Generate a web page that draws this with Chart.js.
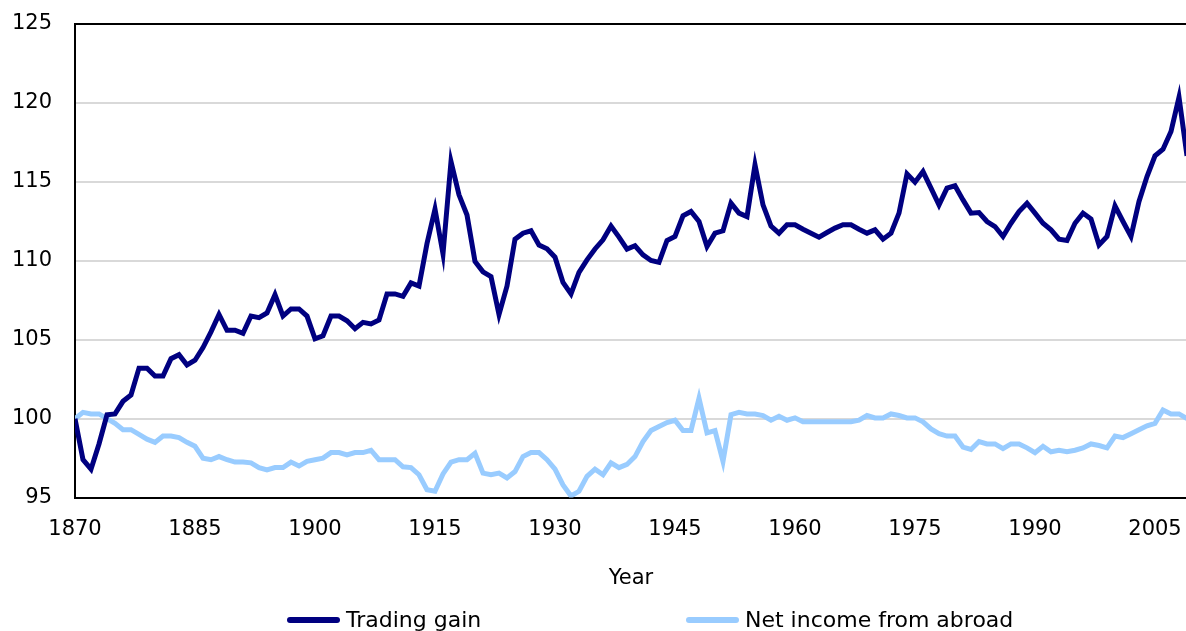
<!DOCTYPE html>
<html>
<head>
<meta charset="utf-8">
<script src="https://cdn.jsdelivr.net/npm/chart.js@4/dist/chart.umd.min.js"></script>
<style>
  html, body { margin: 0; padding: 0; background: #fff; overflow: hidden; }
  #wrap { position: relative; width: 1186px; height: 631px; overflow: hidden; }
  #chart { position: absolute; left: 0; top: 0; }
  .lg-item { position: absolute; top: 609px; height: 22px; display: flex; align-items: center;
             font: 22px "DejaVu Sans", Verdana, sans-serif; line-height: 22px; color: #000; white-space: nowrap; }
  .lg-swatch { display: inline-block; width: 53px; height: 6px; border-radius: 3px; margin-right: 6px; }
</style>
</head>
<body>
<div id="wrap">
  <canvas id="chart" width="1190" height="631"></canvas>
</div>
<script>
// years 1870 .. 2009
var firstYear = 1870;
var lastYear = 2009;
var years = [];
for (var yr = firstYear; yr <= lastYear; yr++) years.push(yr);

var yearTicks = [1870, 1885, 1900, 1915, 1930, 1945, 1960, 1975, 1990, 2005];
var valueTicks = [95, 100, 105, 110, 115, 120, 125];

var tradingGain = [
  100.0, 97.4, 96.8, 98.4, 100.25, 100.3, 101.1, 101.5, 103.2, 103.2,      // 1870s
  102.7, 102.7, 103.8, 104.05, 103.4, 103.7, 104.5, 105.5, 106.6, 105.6,   // 1880s
  105.6, 105.4, 106.5, 106.4, 106.7, 107.85, 106.5, 106.95, 106.95, 106.5, // 1890s
  105.06, 105.25, 106.5, 106.5, 106.2, 105.7, 106.1, 106.0, 106.25, 107.9, // 1900s
  107.9, 107.75, 108.6, 108.4, 111.1, 113.27, 110.44, 116.29, 114.18, 112.9, // 1910s
  109.96, 109.3, 109.0, 106.6, 108.4, 111.37, 111.75, 111.9, 111.0, 110.76, // 1920s
  110.23, 108.63, 107.9, 109.26, 110.06, 110.75, 111.33, 112.2, 111.5, 110.74, // 1930s
  110.95, 110.38, 110.02, 109.9, 111.29, 111.54, 112.85, 113.12, 112.49, 110.91, // 1940s
  111.75, 111.9, 113.65, 113.02, 112.8, 116.08, 113.54, 112.2, 111.75, 112.28, // 1950s
  112.28, 112.0, 111.75, 111.5, 111.79, 112.07, 112.28, 112.28, 112.0, 111.75, // 1960s
  111.96, 111.37, 111.75, 113.02, 115.51, 114.98, 115.65, 114.6, 113.54, 114.6, // 1970s
  114.75, 113.86, 113.02, 113.06, 112.49, 112.17, 111.54, 112.38, 113.12, 113.65, // 1980s
  113.02, 112.38, 111.96, 111.37, 111.29, 112.38, 113.02, 112.64, 111.01, 111.54, // 1990s
  113.48, 112.49, 111.54, 113.76, 115.34, 116.65, 117.07, 118.19, 120.36, 116.65  // 2000s
];

var netIncome = [
  100.0, 100.4, 100.3, 100.3, 100.0, 99.7, 99.3, 99.3, 99.0, 98.7,
  98.5, 98.9, 98.9, 98.8, 98.5, 98.25, 97.5, 97.4, 97.6, 97.4,
  97.25, 97.25, 97.2, 96.9, 96.75, 96.9, 96.9, 97.25, 97.0, 97.3,
  97.4, 97.5, 97.85, 97.85, 97.7, 97.85, 97.85, 98.0, 97.4, 97.4,
  97.4, 96.95, 96.9, 96.45, 95.5, 95.4, 96.5, 97.25, 97.4, 97.4,
  97.8, 96.55, 96.45, 96.55, 96.25, 96.65, 97.6, 97.85, 97.85, 97.4,
  96.8, 95.8, 95.1, 95.4, 96.35, 96.8, 96.45, 97.2, 96.9, 97.1,
  97.6, 98.55, 99.25, 99.5, 99.75, 99.9, 99.25, 99.25, 101.3, 99.1,
  99.25, 97.3, 100.25, 100.4, 100.3, 100.3, 100.2, 99.9, 100.15, 99.9,
  100.05, 99.8, 99.8, 99.8, 99.8, 99.8, 99.8, 99.8, 99.9, 100.2,
  100.05, 100.05, 100.3, 100.2, 100.05, 100.05, 99.8, 99.35, 99.05, 98.9,
  98.9, 98.2, 98.05, 98.55, 98.4, 98.4, 98.1, 98.4, 98.4, 98.15,
  97.85, 98.25, 97.9, 98.0, 97.9, 98.0, 98.15, 98.4, 98.3, 98.15,
  98.9, 98.8, 99.05, 99.3, 99.55, 99.7, 100.55, 100.3, 100.3, 100.0
];

var seriesNames = ["Trading gain", "Net income from abroad"];
var seriesColors = ["#000080", "#99ccff"];

function points(values) {
  return years.map(function (y, i) { return { x: y, y: values[i] }; });
}

var FONT = { family: "'DejaVu Sans', Verdana, sans-serif", size: 21 };
var legendLeft = [287, 686];

var htmlLegend = {
  id: "htmlLegend",
  afterUpdate: function (chart) {
    var wrap = document.getElementById("wrap");
    var old = wrap.querySelectorAll(".lg-item");
    for (var k = 0; k < old.length; k++) old[k].remove();
    var items = Chart.defaults.plugins.legend.labels.generateLabels(chart);
    items.forEach(function (it, i) {
      var d = document.createElement("div");
      d.className = "lg-item";
      d.style.left = legendLeft[i] + "px";
      var sw = document.createElement("span");
      sw.className = "lg-swatch";
      sw.style.background = it.strokeStyle;
      var tx = document.createElement("span");
      tx.textContent = it.text;
      d.appendChild(sw);
      d.appendChild(tx);
      wrap.appendChild(d);
    });
  }
};

new Chart(document.getElementById("chart"), {
  type: "line",
  data: {
    datasets: [
      { label: seriesNames[0], data: points(tradingGain), borderColor: seriesColors[0], backgroundColor: seriesColors[0] },
      { label: seriesNames[1], data: points(netIncome), borderColor: seriesColors[1], backgroundColor: seriesColors[1] }
    ]
  },
  options: {
    responsive: false,
    animation: false,
    devicePixelRatio: 1,
    layout: { padding: { top: 24, left: 0, right: 3, bottom: 40 } },
    elements: {
      line: { borderWidth: 5, tension: 0, fill: false },
      point: { radius: 0, hoverRadius: 0 }
    },
    plugins: {
      legend: { display: false },
      tooltip: { enabled: false }
    },
    scales: {
      x: {
        type: "linear",
        min: firstYear,
        max: lastYear,
        afterBuildTicks: function (s) { s.ticks = yearTicks.map(function (v) { return { value: v }; }); },
        afterFit: function (s) { s.paddingLeft = 0; s.paddingRight = 0; },
        grid: { display: false, drawTicks: false },
        border: { display: true, color: "#000", width: 2 },
        ticks: {
          autoSkip: false, maxRotation: 0, padding: 19, color: "#000", font: FONT,
          callback: function (v) { return String(v); }
        },
        title: { display: true, text: "Year", color: "#000", font: FONT, padding: { top: 5, bottom: 0 } }
      },
      y: {
        min: 95,
        max: 125,
        afterBuildTicks: function (s) { s.ticks = valueTicks.map(function (v) { return { value: v }; }); },
        afterFit: function (s) { s.width = 75; s.paddingTop = 0; s.paddingBottom = 0; },
        grid: {
          drawTicks: false,
          lineWidth: 2,
          color: function (c) { return (c.tick && (c.tick.value === 125 || c.tick.value === 95)) ? "#000" : "#d9d9d9"; }
        },
        border: { display: true, color: "#000", width: 2 },
        ticks: { padding: 23, color: "#000", font: FONT }
      }
    }
  },
  plugins: [htmlLegend]
});
</script>
</body>
</html>
